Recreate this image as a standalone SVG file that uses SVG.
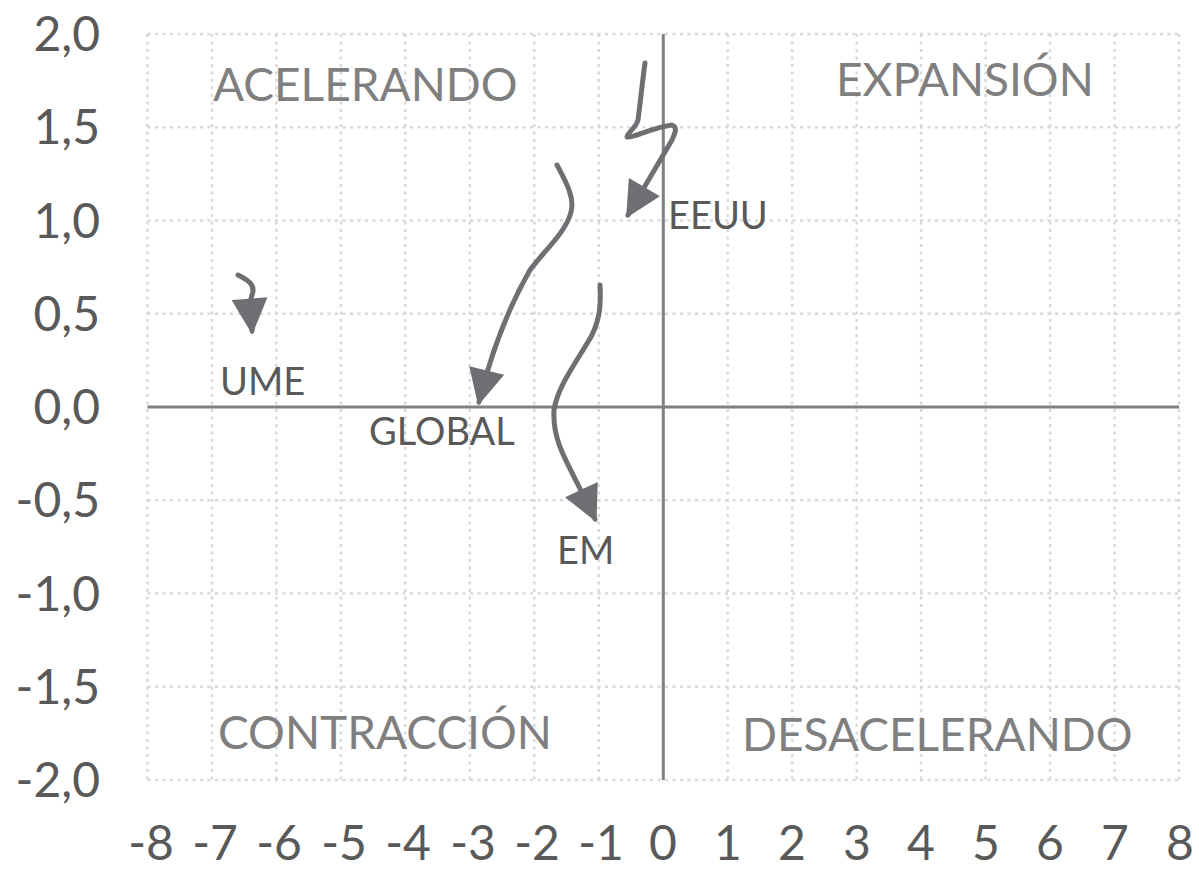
<svg xmlns="http://www.w3.org/2000/svg" width="1199" height="869" viewBox="0 0 1199 869">
<style>
.grid{stroke:#d9d9d9;stroke-width:2.5;stroke-dasharray:3 4.5;fill:none}
.axis{stroke:#808080;stroke-width:3;fill:none}
.tick{font-family:Lato,"Liberation Sans",sans-serif;font-size:48px;fill:#595959}
.quad{font-family:Lato,"Liberation Sans",sans-serif;font-size:46px;fill:#7f7f7f}
.lab{font-family:Lato,"Liberation Sans",sans-serif;font-size:38px;fill:#595959}
.arr{stroke:#6d6f72;stroke-width:5;fill:none;stroke-linecap:round;stroke-linejoin:round;marker-end:url(#ah)}
</style>
<defs>
<marker id="ah" viewBox="0 0 10 10" refX="9" refY="5" markerUnits="userSpaceOnUse" markerWidth="38" markerHeight="36" orient="auto">
<path d="M0,0 L10,5 L0,10 z" fill="#6d6f72"/>
</marker>
</defs>
<rect width="1199" height="869" fill="#fff"/>
<g id="grid">
<path class="grid" d="M147.5,34V780M212,34V780M276.4,34V780M340.9,34V780M405.4,34V780M469.8,34V780M534.3,34V780M598.8,34V780M727.7,34V780M792.2,34V780M856.7,34V780M921.1,34V780M985.6,34V780M1050.1,34V780M1114.5,34V780M1179,34V780"/>
<path class="grid" d="M147.5,34H1179M147.5,127.3H1179M147.5,220.5H1179M147.5,313.8H1179M147.5,500.3H1179M147.5,593.5H1179M147.5,686.8H1179M147.5,780H1179"/>
</g>
<g id="axes">
<path class="axis" d="M147.5,407H1179M663.3,34V780"/>
</g>
<g id="yticks" text-anchor="end">
<text class="tick" x="100" y="51">2,0</text>
<text class="tick" x="100" y="144">1,5</text>
<text class="tick" x="100" y="238">1,0</text>
<text class="tick" x="100" y="331">0,5</text>
<text class="tick" x="100" y="424">0,0</text>
<text class="tick" x="100" y="517">-0,5</text>
<text class="tick" x="100" y="611">-1,0</text>
<text class="tick" x="100" y="704">-1,5</text>
<text class="tick" x="100" y="797">-2,0</text>
</g>
<g id="xticks" text-anchor="middle">
<text class="tick" x="151" y="860">-8</text>
<text class="tick" x="215" y="860">-7</text>
<text class="tick" x="279" y="860">-6</text>
<text class="tick" x="344" y="860">-5</text>
<text class="tick" x="408" y="860">-4</text>
<text class="tick" x="473" y="860">-3</text>
<text class="tick" x="537" y="860">-2</text>
<text class="tick" x="601" y="860">-1</text>
<text class="tick" x="663" y="860">0</text>
<text class="tick" x="728" y="860">1</text>
<text class="tick" x="792" y="860">2</text>
<text class="tick" x="857" y="860">3</text>
<text class="tick" x="921" y="860">4</text>
<text class="tick" x="986" y="860">5</text>
<text class="tick" x="1050" y="860">6</text>
<text class="tick" x="1115" y="860">7</text>
<text class="tick" x="1180" y="860">8</text>
</g>
<g id="quadrants">
<text class="quad" x="213" y="101">ACELERANDO</text>
<text class="quad" x="836" y="96">EXPANSIÓN</text>
<text class="quad" x="218" y="749">CONTRACCIÓN</text>
<text class="quad" x="742" y="751">DESACELERANDO</text>
</g>
<g id="connectors">
<path id="c-eeuu" class="arr" d="M645,63 C642,85 640,105 638,120 C636,128 626,134 627,137 C632,139 650,128 672,125 C678,127 675,133 672,140 L628,215"/>
<path id="c-global" class="arr" d="M557,165 C566,182 575,198 571,212 C566,232 545,250 530,270 C510,305 493,345 479,402"/>
<path id="c-ume" class="arr" d="M238,275 C248,280 256,285 252,295 C250,300 250,305 252,331"/>
<path id="c-em" class="arr" d="M600,285 C601,305 600,318 592,335 C578,360 558,385 554,410 C552,445 570,465 595,519"/>
</g>
<g id="labels">
<text id="eeuu" class="lab" x="668" y="229">EEUU</text>
<text id="ume" class="lab" x="220" y="395">UME</text>
<text id="global" class="lab" x="369" y="445">GLOBAL</text>
<text id="em" class="lab" x="557" y="564">EM</text>
</g>
</svg>
